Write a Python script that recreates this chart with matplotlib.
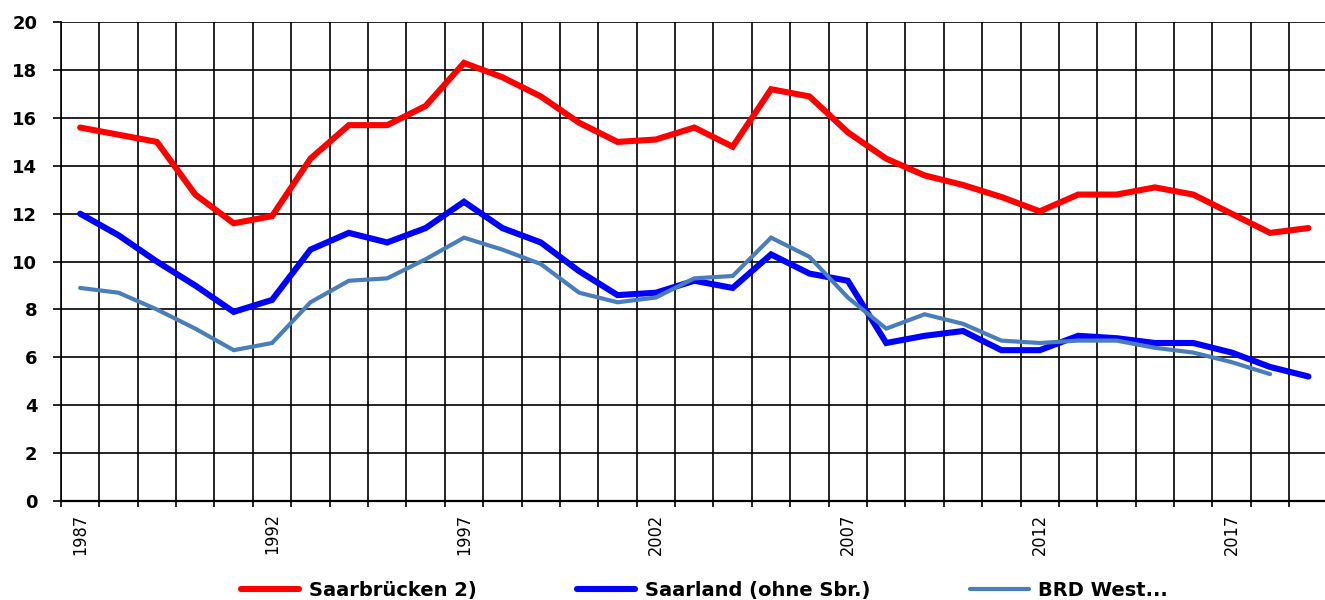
import matplotlib
matplotlib.use("Agg")
import matplotlib.pyplot as plt
from matplotlib import font_manager
from matplotlib.ticker import MultipleLocator

# --- data ---
years = list(range(1987, 2020))
saarbruecken = [15.6, 15.3, 15.0, 12.8, 11.6, 11.9, 14.3, 15.7, 15.7, 16.5,
                18.3, 17.7, 16.9, 15.8, 15.0, 15.1, 15.6, 14.8, 17.2, 16.9,
                15.4, 14.3, 13.6, 13.2, 12.7, 12.1, 12.8, 12.8, 13.1, 12.8,
                12.0, 11.2, 11.4]
saarland = [12.0, 11.1, 10.0, 9.0, 7.9, 8.4, 10.5, 11.2, 10.8, 11.4,
            12.5, 11.4, 10.8, 9.6, 8.6, 8.7, 9.2, 8.9, 10.3, 9.5,
            9.2, 6.6, 6.9, 7.1, 6.3, 6.3, 6.9, 6.8, 6.6, 6.6,
            6.2, 5.6, 5.2]
brd_years = list(range(1987, 2019))
brd_west = [8.9, 8.7, 8.0, 7.2, 6.3, 6.6, 8.3, 9.2, 9.3, 10.1,
            11.0, 10.5, 9.9, 8.7, 8.3, 8.5, 9.3, 9.4, 11.0, 10.2,
            8.5, 7.2, 7.8, 7.4, 6.7, 6.6, 6.7, 6.7, 6.4, 6.2,
            5.8, 5.3]
labels = ["Saarbrücken 2)", "Saarland (ohne Sbr.)", "BRD West..."]
colors = ["#ff0000", "#0000ff", "#4a7ebb"]
label_years = [1987, 1992, 1997, 2002, 2007, 2012, 2017]

# narrow font for the year labels if we have one
try:
    font_manager.findfont("Liberation Sans Narrow", fallback_to_default=False)
    xfont, xsize = "Liberation Sans Narrow", 15
except ValueError:
    xfont, xsize = "DejaVu Sans", 13

fig = plt.figure(figsize=(13.25, 6), dpi=100)
ax = fig.add_axes([0.046, 0.165, 0.956, 0.798])

ax.plot(years, saarbruecken, color=colors[0], lw=4.4, label=labels[0],
        solid_capstyle="round", solid_joinstyle="miter")
ax.plot(years, saarland, color=colors[1], lw=4.4, label=labels[1],
        solid_capstyle="round", solid_joinstyle="miter")
ax.plot(brd_years, brd_west, color=colors[2], lw=3.0, label=labels[2],
        solid_capstyle="round", solid_joinstyle="miter")

ax.set_xlim(1986.5, 2019.5)
ax.set_ylim(0, 20)

# year labels in the middle, grid lines between the years
ax.set_xticks(label_years)
ax.set_xticks([y + 0.5 for y in range(1986, 2019)], minor=True)
ax.set_xticklabels([str(y) for y in label_years], rotation=90,
                   fontfamily=xfont, fontstretch="condensed",
                   fontsize=xsize, va="top")
ax.tick_params(axis="x", which="major", length=0, pad=9)
ax.tick_params(axis="x", which="minor", length=4, width=1.2, color="black")

ax.yaxis.set_major_locator(MultipleLocator(2))
ax.tick_params(axis="y", length=6, width=1.2, pad=11)
for t in ax.get_yticklabels():
    t.set_fontweight("bold")
    t.set_fontsize(13)
    t.set_fontfamily("DejaVu Sans")

ax.grid(True, axis="y", which="major", color="black", lw=1.2)
ax.grid(True, axis="x", which="minor", color="black", lw=1.2)
ax.set_axisbelow(True)

ax.spines["right"].set_visible(False)
ax.spines["top"].set_visible(False)
ax.spines["left"].set_linewidth(1.2)
ax.spines["bottom"].set_linewidth(1.6)

ax.legend(loc="center", bbox_to_anchor=(0.508, -0.186), ncol=3, frameon=False,
          handlelength=3.0, handletextpad=0.5, columnspacing=5.15,
          prop={"family": "DejaVu Sans", "weight": "bold", "size": 14})

fig.savefig("out.png", dpi=100)
